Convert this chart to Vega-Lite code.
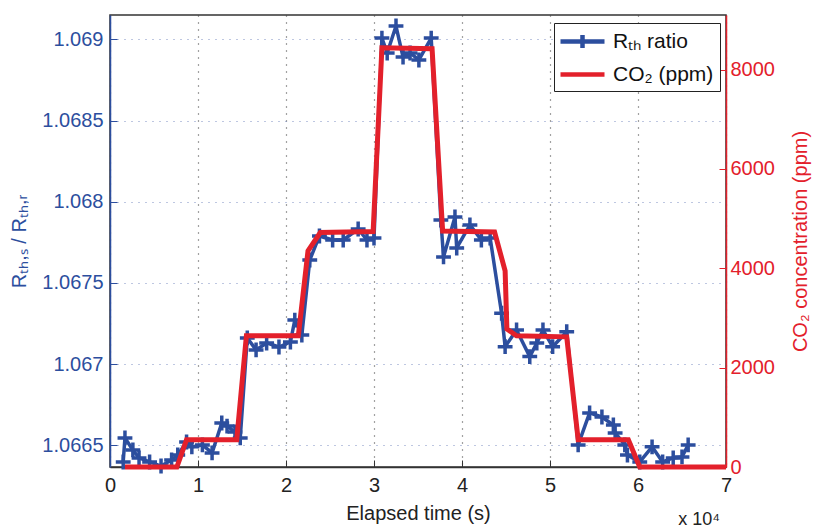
{
  "$schema": "https://vega.github.io/schema/vega-lite/v6.json",
  "width": 616,
  "height": 452,
  "autosize": {"type": "none"},
  "padding": {"left": 110, "top": 15, "right": 92, "bottom": 61},
  "background": "white",
  "config": {
    "font": "Liberation Sans",
    "view": {"stroke": "#333", "strokeWidth": 1.5}
  },
  "title": {
    "text": "x 10⁴",
    "orient": "bottom",
    "anchor": "end",
    "frame": "group",
    "offset": -12,
    "dx": -6,
    "fontSize": 18,
    "fontWeight": "normal",
    "color": "#222"
  },
  "datasets": {
    "rth": [
      {"t": 1500, "ratio": 1.066397},
      {"t": 1700, "ratio": 1.066545},
      {"t": 2600, "ratio": 1.066471},
      {"t": 3300, "ratio": 1.066422},
      {"t": 4500, "ratio": 1.066397},
      {"t": 5800, "ratio": 1.066372},
      {"t": 7000, "ratio": 1.066409},
      {"t": 7700, "ratio": 1.06644},
      {"t": 8700, "ratio": 1.06652},
      {"t": 9300, "ratio": 1.06649},
      {"t": 10500, "ratio": 1.066502},
      {"t": 11600, "ratio": 1.066453},
      {"t": 12700, "ratio": 1.066637},
      {"t": 13300, "ratio": 1.066618},
      {"t": 14200, "ratio": 1.066582},
      {"t": 14800, "ratio": 1.066545},
      {"t": 15600, "ratio": 1.067161},
      {"t": 16600, "ratio": 1.067087},
      {"t": 17800, "ratio": 1.06713},
      {"t": 19200, "ratio": 1.067105},
      {"t": 20500, "ratio": 1.067136},
      {"t": 21000, "ratio": 1.067271},
      {"t": 21800, "ratio": 1.067179},
      {"t": 22700, "ratio": 1.067641},
      {"t": 23800, "ratio": 1.067789},
      {"t": 25300, "ratio": 1.067764},
      {"t": 26500, "ratio": 1.067764},
      {"t": 28200, "ratio": 1.067832},
      {"t": 29200, "ratio": 1.067764},
      {"t": 30000, "ratio": 1.067776},
      {"t": 30900, "ratio": 1.069008},
      {"t": 31500, "ratio": 1.068916},
      {"t": 32500, "ratio": 1.069082},
      {"t": 33300, "ratio": 1.068891},
      {"t": 34100, "ratio": 1.068916},
      {"t": 35100, "ratio": 1.068873},
      {"t": 36500, "ratio": 1.069008},
      {"t": 37600, "ratio": 1.067887},
      {"t": 37900, "ratio": 1.06766},
      {"t": 39200, "ratio": 1.067906},
      {"t": 39400, "ratio": 1.067715},
      {"t": 40900, "ratio": 1.067857},
      {"t": 42200, "ratio": 1.067764},
      {"t": 43200, "ratio": 1.067776},
      {"t": 44500, "ratio": 1.067313},
      {"t": 44900, "ratio": 1.067107},
      {"t": 46200, "ratio": 1.06721},
      {"t": 47700, "ratio": 1.067046},
      {"t": 48500, "ratio": 1.06713},
      {"t": 49200, "ratio": 1.06721},
      {"t": 50300, "ratio": 1.067107},
      {"t": 51900, "ratio": 1.067199},
      {"t": 53200, "ratio": 1.066502},
      {"t": 54500, "ratio": 1.066699},
      {"t": 55900, "ratio": 1.066674},
      {"t": 57200, "ratio": 1.066625},
      {"t": 57400, "ratio": 1.066576},
      {"t": 58500, "ratio": 1.066502},
      {"t": 58800, "ratio": 1.06644},
      {"t": 60200, "ratio": 1.066397},
      {"t": 61600, "ratio": 1.06649},
      {"t": 62800, "ratio": 1.066397},
      {"t": 64000, "ratio": 1.066422},
      {"t": 65000, "ratio": 1.066428},
      {"t": 65700, "ratio": 1.066502}
    ],
    "co2": [
      {"t": 1700, "co2": 0},
      {"t": 7600, "co2": 0},
      {"t": 8700, "co2": 550},
      {"t": 14400, "co2": 550},
      {"t": 15500, "co2": 2640},
      {"t": 21400, "co2": 2640},
      {"t": 22500, "co2": 4350},
      {"t": 23900, "co2": 4720},
      {"t": 29900, "co2": 4740},
      {"t": 30900, "co2": 8440},
      {"t": 36600, "co2": 8420},
      {"t": 37800, "co2": 4750},
      {"t": 43700, "co2": 4730},
      {"t": 44900, "co2": 3950},
      {"t": 45100, "co2": 2780},
      {"t": 46200, "co2": 2640},
      {"t": 51900, "co2": 2620},
      {"t": 53200, "co2": 550},
      {"t": 58900, "co2": 550},
      {"t": 60200, "co2": 0},
      {"t": 70000, "co2": 0}
    ]
  },
  "layer": [
    {
      "layer": [
        {
          "data": {"name": "rth"},
          "mark": {"type": "line", "strokeWidth": 3.5, "strokeJoin": "round"},
          "encoding": {
            "x": {
              "field": "t",
              "type": "quantitative",
              "scale": {"domain": [0, 70000], "nice": false, "zero": false},
              "axis": {
                "title": "Elapsed time (s)",
                "values": [0, 10000, 20000, 30000, 40000, 50000, 60000, 70000],
                "labelExpr": "datum.value / 10000",
                "labelFlush": false,
                "labelFontSize": 20,
                "labelColor": "#222",
                "labelPadding": 15,
                "titleFontSize": 20,
                "titleFontWeight": "normal",
                "titleColor": "#222",
                "titlePadding": 8,
                "domainColor": "#333",
                "domainWidth": 1.5,
                "tickColor": "#333",
                "tickSize": -7,
                "grid": true,
                "gridColor": "#444",
                "gridDash": [1, 6],
                "gridWidth": 1.2
              }
            },
            "y": {
              "field": "ratio",
              "type": "quantitative",
              "scale": {"domain": [1.066366, 1.06915], "nice": false, "zero": false},
              "axis": {
                "title": "Rₜₕ,ₛ / Rₜₕ,ᵣ",
                "values": [1.0665, 1.067, 1.0675, 1.068, 1.0685, 1.069],
                "format": "~g",
                "labelFlush": false,
                "labelFontSize": 20,
                "labelColor": "#2C4E9E",
                "labelPadding": 14,
                "titleFontSize": 20,
                "titleFontWeight": "normal",
                "titleColor": "#2C4E9E",
                "titlePadding": 12,
                "domainColor": "#2C4E9E",
                "domainWidth": 1.5,
                "tickColor": "#2C4E9E",
                "tickSize": -7,
                "grid": true,
                "gridColor": "#7f8fc4",
                "gridDash": [1, 6],
                "gridWidth": 1.2
              }
            },
            "color": {
              "datum": "Rₜₕ ratio",
              "type": "nominal",
              "scale": {"domain": ["Rₜₕ ratio", "CO₂ (ppm)"], "range": ["#2C4E9E", "#E3202B"]},
              "legend": {
                "orient": "none",
                "legendX": 444,
                "legendY": 8,
                "title": null,
                "strokeColor": "#222",
                "fillColor": "white",
                "padding": 6,
                "labelFontSize": 21,
                "labelColor": "#111",
                "labelOffset": 18,
                "symbolOffset": 10,
                "symbolSize": 400,
                "symbolStrokeWidth": 4.5,
                "symbolType": "M-2.2,0H2.2",
                "rowPadding": 5,
                "encode": {
                  "symbols": {
                    "update": {
                      "shape": {"signal": "datum.value === 'CO₂ (ppm)' ? 'M-2.2,0H2.2' : 'M-2.2,0H2.2M0,-0.65V0.65'"}
                    }
                  }
                }
              }
            }
          }
        },
        {
          "data": {"name": "rth"},
          "mark": {"type": "point", "shape": "M-1,0H1M0,-1V1", "filled": false, "strokeWidth": 3.5, "size": 220, "color": "#2C4E9E", "opacity": 1},
          "encoding": {
            "x": {"field": "t", "type": "quantitative"},
            "y": {"field": "ratio", "type": "quantitative"}
          }
        }
      ]
    },
    {
      "data": {"name": "co2"},
      "mark": {"type": "line", "strokeWidth": 5, "strokeJoin": "miter"},
      "encoding": {
        "x": {"field": "t", "type": "quantitative"},
        "y": {
          "field": "co2",
          "type": "quantitative",
          "scale": {"domain": [0, 9100], "nice": false},
          "axis": {
            "orient": "right",
            "title": "CO₂ concentration (ppm)",
            "titleAngle": 270,
            "values": [0, 2000, 4000, 6000, 8000],
            "format": "d",
            "labelFlush": false,
            "labelFontSize": 20,
            "labelColor": "#E3202B",
            "labelPadding": 11,
            "titleFontSize": 20,
            "titleFontWeight": "normal",
            "titleColor": "#E3202B",
            "titlePadding": 36,
            "domainColor": "#E3202B",
            "domainWidth": 1.5,
            "tickColor": "#E3202B",
            "tickSize": -7,
            "grid": false
          }
        },
        "color": {"datum": "CO₂ (ppm)", "type": "nominal"}
      }
    }
  ],
  "resolve": {"scale": {"y": "independent"}}
}
